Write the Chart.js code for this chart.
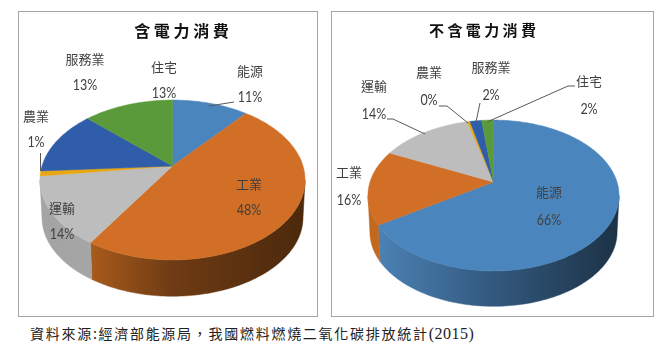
<!DOCTYPE html>
<html>
<head>
<meta charset="utf-8">
<script src="https://cdn.jsdelivr.net/npm/chart.js@4"></script>
<style>
body { margin: 0; background: #fff; width: 661px; height: 352px; position: relative; overflow: hidden; }
.frame { position: absolute; top: 11px; height: 304px; border: 1px solid #a6a6a6; box-sizing: content-box; }
#source { position: absolute; left: 30px; top: 323px; font: 14px/20px "Noto Sans CJK TC"; letter-spacing: 1.72px; color: #222; white-space: nowrap; }
#source span { font-family: "Liberation Serif"; font-size: 16px; letter-spacing: .5px; }
</style>
</head>
<body>
<div class="frame" style="left:18px;width:298px"><canvas id="left" width="298" height="304"></canvas></div>
<div class="frame" style="left:331px;width:321px"><canvas id="right" width="321" height="304"></canvas></div>
<div id="source">資料來源:經濟部能源局，我國燃料燃燒二氧化碳排放統計<span>(2015)</span></div>

<script>
const categories = ['能源', '工業', '運輸', '農業', '服務業', '住宅'];
const withPower = [11, 48, 14, 1, 13, 13];
const withoutPower = [66, 16, 14, 0.4, 1.8, 1.8];
const colors = ['#4a86bd', '#d16f26', '#bdbdbd', '#e8a70f', '#2f5da9', '#5a9a3a'];
const wallLeft = ['#4a80b2', '#c2691f', '#a4a4a4', '#b0800c', '#24477f', '#44742c'];
const wallMid = ['#33587e', '#6e3b14', '#aaaaaa', '#8a640a', '#1d3a68', '#365c23'];
const wallRight = ['#1c3347', '#4c290c', '#b0b0b0', '#6a4d07', '#16294a', '#28441a'];

// where the tilted disc sits on the canvas, and where each label goes
const leftView = {
  cx: 153.5, cy: 154, a: 130.5, b: 77.5, k: 0.175, depth: 38,
  labelPos: [[231, 59], [230, 172], [43, 196], [17, 104], [66, 47], [145, 55]],
  labelGap: 26,
  leaders: [[[190, 94], [215, 90]], [[21.5, 141], [21.5, 159]]]
};
const rightView = {
  cx: 161.5, cy: 170, a: 123.5, b: 73, k: 0.179, depth: 37,
  labelPos: [[217, 180], [17, 160], [42, 74], [97, 60], [159, 55], [257, 69]],
  labelGap: 28,
  leaders: [
    [[55, 107], [61, 107], [93, 122]],
    [[107, 94], [115, 94], [136, 111]],
    [[148, 91], [144, 110]],
    [[243, 74], [236, 74], [155, 110]]
  ]
};

function project(v, angle, scale, drop) {
  const px = Math.cos(angle) * scale, py = Math.sin(angle) * scale;
  const w = 1 - v.k * py;
  return [v.cx + v.a * px / w, v.cy + v.b * py / w + drop];
}

function slicePoints(v, start, end, scale, drop) {
  const pts = [];
  const steps = Math.max(2, Math.ceil((end - start) / 0.02));
  for (let i = 0; i <= steps; i++) {
    pts.push(project(v, start + (end - start) * i / steps, scale, drop));
  }
  return pts;
}

function fillPoly(ctx, pts, fill) {
  ctx.beginPath();
  pts.forEach((p, i) => i ? ctx.lineTo(p[0], p[1]) : ctx.moveTo(p[0], p[1]));
  ctx.closePath();
  ctx.fillStyle = fill;
  ctx.fill();
  ctx.strokeStyle = fill;
  ctx.lineWidth = 0.5;
  ctx.stroke();
}

// draws the arcs chart.js laid out as a tilted 3D pie instead of a flat one
const tiltedPie = {
  id: 'tiltedPie',
  beforeDatasetDraw(chart) {
    const ctx = chart.ctx;
    const v = chart.options.plugins.tiltedPie.view;
    const arcs = chart.getDatasetMeta(0).data;
    const x0 = v.cx - v.a, x1 = v.cx + v.a;
    const edge = Math.asin(v.k);

    // side wall, only the front of the rim shows
    arcs.forEach((arc, i) => {
      const start = Math.max(arc.startAngle, edge);
      const end = Math.min(arc.endAngle, Math.PI - edge);
      if (end <= start) return;
      const top = slicePoints(v, start, end, 1, 0);
      const bottom = slicePoints(v, start, end, 0.985, v.depth).reverse();
      const grad = ctx.createLinearGradient(x0, 0, x1, 0);
      grad.addColorStop(0.05, wallLeft[i]);
      grad.addColorStop(0.5, wallMid[i]);
      grad.addColorStop(1, wallRight[i]);
      fillPoly(ctx, top.concat(bottom), grad);
    });

    // top face
    arcs.forEach((arc, i) => {
      const pts = slicePoints(v, arc.startAngle, arc.endAngle, 1, 0);
      pts.push(project(v, 0, 0, 0));
      fillPoly(ctx, pts, colors[i]);
    });

    // leader lines
    ctx.strokeStyle = '#595959';
    ctx.lineWidth = 1;
    v.leaders.forEach(line => {
      ctx.beginPath();
      line.forEach((p, i) => i ? ctx.lineTo(p[0], p[1]) : ctx.moveTo(p[0], p[1]));
      ctx.stroke();
    });

    // labels, name above percent
    ctx.textAlign = 'center';
    ctx.textBaseline = 'middle';
    ctx.fillStyle = '#404040';
    const values = chart.data.datasets[0].data;
    v.labelPos.forEach((p, i) => {
      ctx.font = '13px "Noto Sans CJK TC"';
      ctx.fillText(chart.data.labels[i], p[0], p[1]);
      ctx.font = '16px Lato';
      const pct = Math.round(values[i]) + '%';
      ctx.fillText(pct, p[0], p[1] + v.labelGap, ctx.measureText(pct).width * 0.78);
    });
    return false;
  }
};

function makePie(id, title, titleSize, values, view, padding) {
  return new Chart(document.getElementById(id), {
    type: 'pie',
    data: {
      labels: categories,
      datasets: [{ data: values, backgroundColor: colors, borderWidth: 0 }]
    },
    options: {
      responsive: false,
      animation: false,
      layout: { padding: padding },
      plugins: {
        legend: { display: false },
        tooltip: { enabled: false },
        title: {
          display: true,
          text: title,
          color: '#111',
          font: { family: '"Noto Sans CJK TC"', size: titleSize, weight: 'bold' },
          padding: { top: 9, bottom: 10 }
        },
        tiltedPie: { view: view }
      }
    },
    plugins: [tiltedPie]
  });
}

makePie('left', '含 電 力 消 費', 16, withPower, leftView, { left: 27 });
makePie('right', '不 含 電 力 消 費', 15, withoutPower, rightView, { right: 20 });
</script>
</body>
</html>
